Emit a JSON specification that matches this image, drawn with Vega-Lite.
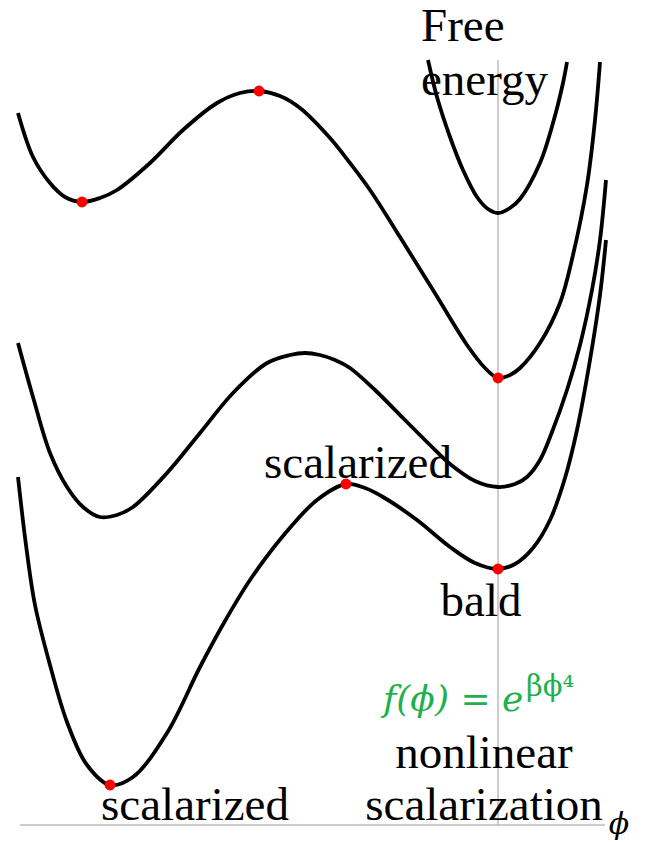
{
  "$schema": "https://vega.github.io/schema/vega-lite/v6.json",
  "width": 662,
  "height": 842,
  "autosize": {"type": "fit", "contains": "padding"},
  "padding": 0,
  "background": "white",
  "config": {"view": {"stroke": null}},
  "datasets": {
    "axes": [
      {"phi": 0, "E": 0, "phi2": 0, "E2": 7.65},
      {"phi": -4.78, "E": 0, "phi2": 1.07, "E2": 0}
    ],
    "curves": [
      {"curve": "A", "phi": -4.80, "E": 7.12}, {"curve": "A", "phi": -4.65, "E": 6.68},
      {"curve": "A", "phi": -4.48, "E": 6.42}, {"curve": "A", "phi": -4.33, "E": 6.28},
      {"curve": "A", "phi": -4.16, "E": 6.23}, {"curve": "A", "phi": -3.98, "E": 6.27},
      {"curve": "A", "phi": -3.81, "E": 6.35}, {"curve": "A", "phi": -3.48, "E": 6.62},
      {"curve": "A", "phi": -3.15, "E": 6.95}, {"curve": "A", "phi": -2.81, "E": 7.22},
      {"curve": "A", "phi": -2.58, "E": 7.32}, {"curve": "A", "phi": -2.39, "E": 7.34},
      {"curve": "A", "phi": -2.18, "E": 7.29}, {"curve": "A", "phi": -1.98, "E": 7.17},
      {"curve": "A", "phi": -1.68, "E": 6.87}, {"curve": "A", "phi": -1.48, "E": 6.62},
      {"curve": "A", "phi": -1.28, "E": 6.35}, {"curve": "A", "phi": -0.98, "E": 5.88},
      {"curve": "A", "phi": -0.65, "E": 5.35}, {"curve": "A", "phi": -0.31, "E": 4.80},
      {"curve": "A", "phi": -0.13, "E": 4.57}, {"curve": "A", "phi": 0.00, "E": 4.47},
      {"curve": "A", "phi": 0.12, "E": 4.50}, {"curve": "A", "phi": 0.22, "E": 4.57},
      {"curve": "A", "phi": 0.42, "E": 4.82}, {"curve": "A", "phi": 0.62, "E": 5.22},
      {"curve": "A", "phi": 0.75, "E": 5.70}, {"curve": "A", "phi": 0.89, "E": 6.40},
      {"curve": "A", "phi": 0.97, "E": 7.05}, {"curve": "A", "phi": 1.02, "E": 7.63},

      {"curve": "P", "phi": -0.70, "E": 7.65}, {"curve": "P", "phi": -0.61, "E": 7.28},
      {"curve": "P", "phi": -0.48, "E": 6.88}, {"curve": "P", "phi": -0.35, "E": 6.55},
      {"curve": "P", "phi": -0.21, "E": 6.28}, {"curve": "P", "phi": -0.10, "E": 6.16},
      {"curve": "P", "phi": 0.00, "E": 6.12}, {"curve": "P", "phi": 0.12, "E": 6.17},
      {"curve": "P", "phi": 0.22, "E": 6.26}, {"curve": "P", "phi": 0.42, "E": 6.62},
      {"curve": "P", "phi": 0.55, "E": 7.02}, {"curve": "P", "phi": 0.65, "E": 7.42},
      {"curve": "P", "phi": 0.69, "E": 7.63},

      {"curve": "B", "phi": -4.80, "E": 4.82}, {"curve": "B", "phi": -4.65, "E": 4.28},
      {"curve": "B", "phi": -4.48, "E": 3.72}, {"curve": "B", "phi": -4.31, "E": 3.38},
      {"curve": "B", "phi": -4.15, "E": 3.18}, {"curve": "B", "phi": -3.98, "E": 3.08},
      {"curve": "B", "phi": -3.81, "E": 3.10}, {"curve": "B", "phi": -3.65, "E": 3.18},
      {"curve": "B", "phi": -3.31, "E": 3.52}, {"curve": "B", "phi": -2.98, "E": 3.92},
      {"curve": "B", "phi": -2.65, "E": 4.32}, {"curve": "B", "phi": -2.31, "E": 4.62},
      {"curve": "B", "phi": -2.08, "E": 4.70}, {"curve": "B", "phi": -1.93, "E": 4.72},
      {"curve": "B", "phi": -1.78, "E": 4.70}, {"curve": "B", "phi": -1.63, "E": 4.65},
      {"curve": "B", "phi": -1.48, "E": 4.57}, {"curve": "B", "phi": -1.23, "E": 4.35},
      {"curve": "B", "phi": -0.95, "E": 4.07}, {"curve": "B", "phi": -0.68, "E": 3.80},
      {"curve": "B", "phi": -0.48, "E": 3.61}, {"curve": "B", "phi": -0.23, "E": 3.44},
      {"curve": "B", "phi": 0.00, "E": 3.38}, {"curve": "B", "phi": 0.17, "E": 3.41},
      {"curve": "B", "phi": 0.29, "E": 3.48}, {"curve": "B", "phi": 0.42, "E": 3.65},
      {"curve": "B", "phi": 0.54, "E": 3.93}, {"curve": "B", "phi": 0.69, "E": 4.35},
      {"curve": "B", "phi": 0.82, "E": 4.80}, {"curve": "B", "phi": 0.94, "E": 5.35},
      {"curve": "B", "phi": 1.02, "E": 5.85}, {"curve": "B", "phi": 1.08, "E": 6.45},

      {"curve": "C", "phi": -4.80, "E": 3.48}, {"curve": "C", "phi": -4.72, "E": 2.80},
      {"curve": "C", "phi": -4.63, "E": 2.20}, {"curve": "C", "phi": -4.48, "E": 1.60},
      {"curve": "C", "phi": -4.31, "E": 1.03}, {"curve": "C", "phi": -4.11, "E": 0.60},
      {"curve": "C", "phi": -3.88, "E": 0.40}, {"curve": "C", "phi": -3.65, "E": 0.48},
      {"curve": "C", "phi": -3.31, "E": 0.92}, {"curve": "C", "phi": -2.98, "E": 1.58},
      {"curve": "C", "phi": -2.73, "E": 2.04}, {"curve": "C", "phi": -2.48, "E": 2.45},
      {"curve": "C", "phi": -2.15, "E": 2.89}, {"curve": "C", "phi": -1.81, "E": 3.25},
      {"curve": "C", "phi": -1.52, "E": 3.41}, {"curve": "C", "phi": -1.33, "E": 3.37},
      {"curve": "C", "phi": -1.15, "E": 3.28}, {"curve": "C", "phi": -0.81, "E": 3.05},
      {"curve": "C", "phi": -0.48, "E": 2.78}, {"curve": "C", "phi": -0.23, "E": 2.62},
      {"curve": "C", "phi": 0.00, "E": 2.56}, {"curve": "C", "phi": 0.17, "E": 2.61},
      {"curve": "C", "phi": 0.35, "E": 2.77}, {"curve": "C", "phi": 0.52, "E": 3.05},
      {"curve": "C", "phi": 0.67, "E": 3.47}, {"curve": "C", "phi": 0.79, "E": 3.95},
      {"curve": "C", "phi": 0.92, "E": 4.65}, {"curve": "C", "phi": 1.02, "E": 5.30},
      {"curve": "C", "phi": 1.08, "E": 5.85}
    ],
    "extrema": [
      {"phi": -4.16, "E": 6.23}, {"phi": -2.39, "E": 7.34}, {"phi": 0.00, "E": 4.47},
      {"phi": -1.52, "E": 3.41}, {"phi": 0.00, "E": 2.56}, {"phi": -3.88, "E": 0.40}
    ],
    "title_lines": [
      {"text": "Free", "phi": -0.77, "E": 7.84},
      {"text": "energy", "phi": -0.77, "E": 7.30}
    ],
    "labels": [
      {"text": "scalarized", "phi": -1.40, "E": 3.47},
      {"text": "bald", "phi": -0.17, "E": 2.09},
      {"text": "nonlinear", "phi": -0.14, "E": 0.57},
      {"text": "scalarization", "phi": -0.14, "E": 0.05},
      {"text": "scalarized", "phi": -3.03, "E": 0.05}
    ],
    "formula": [{"text": "f(ϕ) = e", "phi": -1.15, "E": 1.14}],
    "exponent": [{"text": "βϕ⁴", "phi": 0.28, "E": 1.29}],
    "axis_label": [{"text": "ϕ", "phi": 1.21, "E": -0.09}]
  },
  "encoding": {
    "x": {"field": "phi", "type": "quantitative", "axis": null,
          "scale": {"domain": [-4.98, 1.64], "nice": false, "zero": false}},
    "y": {"field": "E", "type": "quantitative", "axis": null,
          "scale": {"domain": [-0.17, 8.25], "nice": false, "zero": false}}
  },
  "layer": [
    {
      "data": {"name": "axes"},
      "mark": {"type": "rule", "color": "#9a9a9a", "strokeWidth": 1},
      "encoding": {"x2": {"field": "phi2"}, "y2": {"field": "E2"}}
    },
    {
      "data": {"name": "curves"},
      "mark": {"type": "line", "color": "black", "strokeWidth": 3.8, "interpolate": "catmull-rom"},
      "encoding": {"detail": {"field": "curve"}}
    },
    {
      "data": {"name": "extrema"},
      "mark": {"type": "circle", "color": "#ff0000", "opacity": 1, "size": 120}
    },
    {
      "data": {"name": "title_lines"},
      "mark": {"type": "text", "font": "Liberation Serif", "fontSize": 47, "align": "left", "baseline": "alphabetic", "color": "black"},
      "encoding": {"text": {"field": "text"}}
    },
    {
      "data": {"name": "labels"},
      "mark": {"type": "text", "font": "Liberation Serif", "fontSize": 47, "align": "center", "baseline": "alphabetic", "color": "black"},
      "encoding": {"text": {"field": "text"}}
    },
    {
      "data": {"name": "formula"},
      "mark": {"type": "text", "font": "DejaVu Serif", "fontStyle": "italic", "fontSize": 36, "align": "left", "baseline": "alphabetic", "color": "#1fb04e"},
      "encoding": {"text": {"field": "text"}}
    },
    {
      "data": {"name": "exponent"},
      "mark": {"type": "text", "font": "DejaVu Serif", "fontSize": 29, "align": "left", "baseline": "alphabetic", "color": "#1fb04e"},
      "encoding": {"text": {"field": "text"}}
    },
    {
      "data": {"name": "axis_label"},
      "mark": {"type": "text", "font": "DejaVu Serif", "fontStyle": "italic", "fontSize": 30, "align": "center", "baseline": "alphabetic", "color": "black"},
      "encoding": {"text": {"field": "text"}}
    }
  ]
}
